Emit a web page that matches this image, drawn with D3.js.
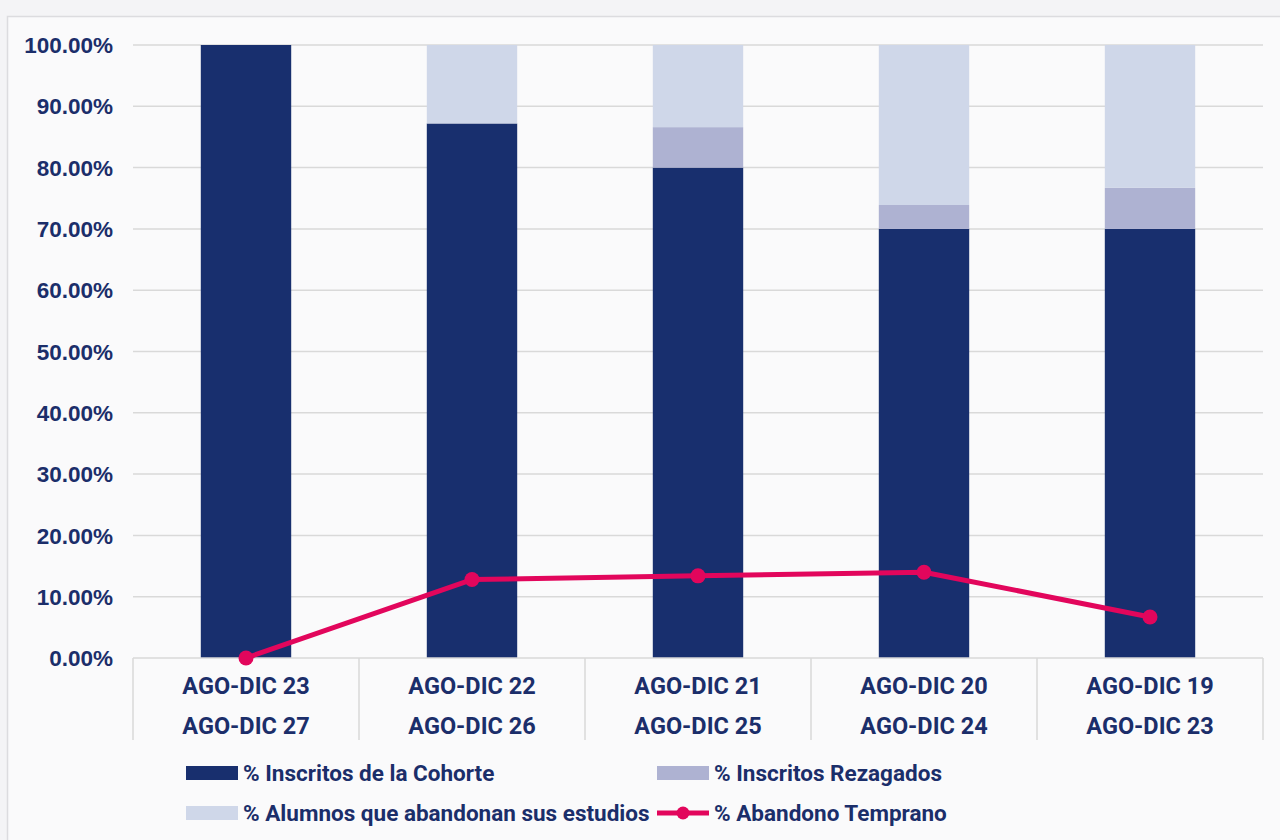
<!DOCTYPE html>
<html lang="es">
<head>
<meta charset="UTF-8">
<title>Cohorte</title>
<script src="https://d3js.org/d3.v7.min.js"></script>
<style>
    body { margin: 0; background: #f3f3f5; }
    svg { display: block; }
</style>
</head>
<body>
<svg width="1280" height="840"></svg>
<script>
// data
const categories = [
    ["AGO-DIC 23", "AGO-DIC 27"],
    ["AGO-DIC 22", "AGO-DIC 26"],
    ["AGO-DIC 21", "AGO-DIC 25"],
    ["AGO-DIC 20", "AGO-DIC 24"],
    ["AGO-DIC 19", "AGO-DIC 23"]
];
const inscritosCohorte = [100, 87.2, 80.0, 70.0, 70.0];
const inscritosRezagados = [0, 0, 6.6, 3.9, 6.7];
const abandonan = [0, 12.8, 13.4, 26.1, 23.3];
const abandonoTemprano = [0, 12.8, 13.4, 14.0, 6.7];
const yTicks = [0, 10, 20, 30, 40, 50, 60, 70, 80, 90, 100];

const seriesNames = ["% Inscritos de la Cohorte", "% Inscritos Rezagados", "% Alumnos que abandonan sus estudios", "% Abandono Temprano"];
const colors = ["#182f6e", "#aeb2d2", "#cfd7e9", "#e2065c"];
const textColor = "#1b2e6a";

const svg = d3.select("svg");
const margin = { top: 45, right: 17, bottom: 182, left: 133 };
const width = 1280 - margin.left - margin.right,
      height = 840 - margin.top - margin.bottom;

// background panel
svg.append("rect").attr("width", 1280).attr("height", 840).attr("fill", "#f4f4f6");
svg.append("rect")
    .attr("x", 7.5).attr("y", 16.5).attr("width", 1290).attr("height", 840)
    .attr("fill", "#fafafb").attr("stroke", "#dcdcdf").attr("stroke-width", 1.5);

const g = svg.append("g").attr("transform", `translate(${margin.left},${margin.top})`);

const x = d3.scaleBand().domain(d3.range(categories.length)).range([0, width]).paddingInner(0).paddingOuter(0);
const y = d3.scaleLinear().domain([0, 100]).range([height, 0]);
const barW = x.bandwidth() * 0.4;

// gridlines
g.append("g")
    .selectAll("line")
    .data(yTicks.filter(d => d > 0))
    .join("line")
    .attr("x1", 0).attr("x2", width)
    .attr("y1", d => y(d)).attr("y2", d => y(d))
    .attr("stroke", "#d9d9d9").attr("stroke-width", 1.5);

// y labels
g.append("g")
    .selectAll("text")
    .data(yTicks)
    .join("text")
    .attr("x", -20)
    .attr("y", d => y(d))
    .attr("dy", "0.36em")
    .attr("text-anchor", "end")
    .attr("font-family", "'Liberation Sans', Arial, sans-serif")
    .attr("font-weight", "bold")
    .attr("font-size", 22.5)
    .attr("fill", textColor)
    .text(d => d.toFixed(2) + "%");

// stacked bars
const stackData = categories.map((c, i) => ({ i: i, a: inscritosCohorte[i], b: inscritosRezagados[i], c: abandonan[i] }));
const stack = d3.stack().keys(["a", "b", "c"]);
const layers = stack(stackData);

g.append("g")
    .selectAll("g")
    .data(layers)
    .join("g")
    .attr("fill", (d, k) => colors[k])
    .selectAll("rect")
    .data(d => d)
    .join("rect")
    .attr("x", d => x(d.data.i) + (x.bandwidth() - barW) / 2)
    .attr("width", barW)
    .attr("y", d => y(d[1]))
    .attr("height", d => y(d[0]) - y(d[1]));

// x axis line and category separators
const axisG = g.append("g").attr("transform", `translate(0,${height})`);
axisG.append("line").attr("x1", 0).attr("x2", width).attr("stroke", "#d9d9d9").attr("stroke-width", 1.5);
axisG.selectAll(".sep")
    .data(d3.range(categories.length + 1))
    .join("line")
    .attr("class", "sep")
    .attr("x1", d => d * x.bandwidth()).attr("x2", d => d * x.bandwidth())
    .attr("y1", 0).attr("y2", 82)
    .attr("stroke", "#d9d9d9").attr("stroke-width", 1.5);

categories.forEach((c, i) => {
    c.forEach((t, j) => {
        axisG.append("text")
            .attr("x", x(i) + x.bandwidth() / 2)
            .attr("y", 36 + j * 40)
            .attr("text-anchor", "middle")
            .attr("font-family", "Roboto, sans-serif")
            .attr("font-weight", "bold")
            .attr("font-size", 23.5)
            .attr("fill", textColor)
            .text(t);
    });
});

// line series
const line = d3.line()
    .x((d, i) => x(i) + x.bandwidth() / 2)
    .y(d => y(d));

g.append("path")
    .datum(abandonoTemprano)
    .attr("fill", "none")
    .attr("stroke", colors[3])
    .attr("stroke-width", 5)
    .attr("stroke-linejoin", "round")
    .attr("d", line);

g.selectAll(".dot")
    .data(abandonoTemprano)
    .join("circle")
    .attr("class", "dot")
    .attr("cx", (d, i) => x(i) + x.bandwidth() / 2)
    .attr("cy", d => y(d))
    .attr("r", 7.5)
    .attr("fill", colors[3]);

// legend
const legendPos = [[186, 773], [657, 773], [186, 813], [657, 813]];
const legend = svg.append("g")
    .selectAll("g")
    .data(seriesNames)
    .join("g")
    .attr("transform", (d, i) => `translate(${legendPos[i][0]},${legendPos[i][1]})`);

legend.filter((d, i) => i < 3)
    .append("rect")
    .attr("x", 0).attr("y", -7)
    .attr("width", 52).attr("height", 14)
    .attr("fill", (d, i) => colors[i]);

const lineLegend = legend.filter((d, i) => i === 3);
lineLegend.append("line")
    .attr("x1", 0).attr("x2", 52)
    .attr("stroke", colors[3]).attr("stroke-width", 5);
lineLegend.append("circle")
    .attr("cx", 26).attr("r", 6.5).attr("fill", colors[3]);

legend.append("text")
    .attr("x", 57)
    .attr("dy", "0.36em")
    .attr("font-family", "Roboto, sans-serif")
    .attr("font-weight", "bold")
    .attr("font-size", 22.5)
    .attr("fill", textColor)
    .text(d => d);
</script>
</body>
</html>
